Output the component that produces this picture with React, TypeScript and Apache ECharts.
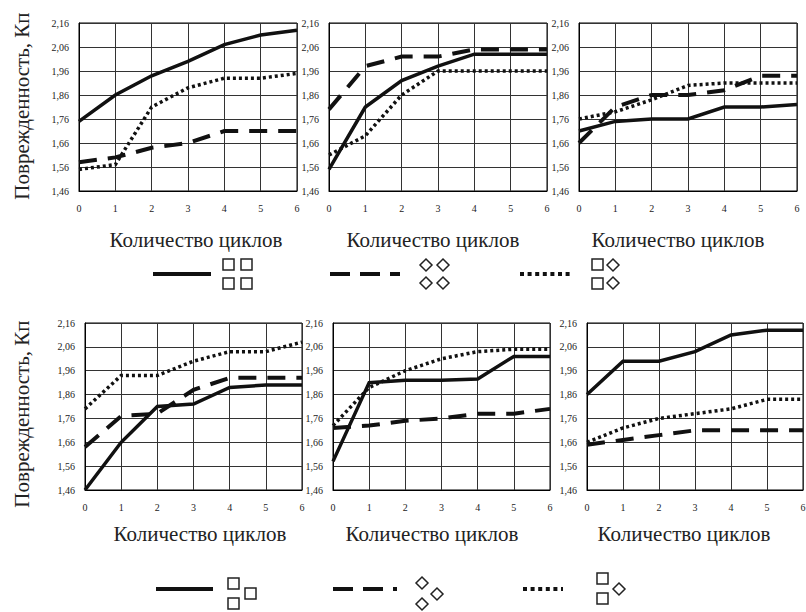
import React, { useEffect, useRef } from "react";
import * as echarts from "echarts";

// ---------- data ----------
const cycles = [0, 1, 2, 3, 4, 5, 6];
const yTickMin = 1.46;
const yTickMax = 2.16;
const yTickStep = 0.1;

const top1Solid = [1.75, 1.86, 1.94, 2.0, 2.07, 2.11, 2.13];
const top1Dashed = [1.58, 1.6, 1.64, 1.66, 1.71, 1.71, 1.71];
const top1Dotted = [1.55, 1.57, 1.81, 1.89, 1.93, 1.93, 1.95];

const top2Solid = [1.55, 1.81, 1.92, 1.98, 2.03, 2.03, 2.03];
const top2Dashed = [1.8, 1.98, 2.02, 2.02, 2.05, 2.05, 2.05];
const top2Dotted = [1.61, 1.69, 1.86, 1.96, 1.96, 1.96, 1.96];

const top3Solid = [1.71, 1.75, 1.76, 1.76, 1.81, 1.81, 1.82];
const top3Dashed = [1.66, 1.81, 1.86, 1.86, 1.88, 1.94, 1.94];
const top3Dotted = [1.76, 1.79, 1.84, 1.9, 1.91, 1.91, 1.91];

const bot1Solid = [1.46, 1.66, 1.81, 1.82, 1.89, 1.9, 1.9];
const bot1Dashed = [1.64, 1.77, 1.78, 1.88, 1.93, 1.93, 1.93];
const bot1Dotted = [1.8, 1.94, 1.94, 2.0, 2.04, 2.04, 2.08];

const bot2Solid = [1.58, 1.91, 1.92, 1.92, 1.925, 2.02, 2.02];
const bot2Dashed = [1.72, 1.73, 1.75, 1.76, 1.78, 1.78, 1.8];
const bot2Dotted = [1.73, 1.89, 1.96, 2.01, 2.04, 2.05, 2.05];

const bot3Solid = [1.86, 2.0, 2.0, 2.04, 2.11, 2.13, 2.13];
const bot3Dashed = [1.65, 1.67, 1.69, 1.71, 1.71, 1.71, 1.71];
const bot3Dotted = [1.66, 1.72, 1.76, 1.78, 1.8, 1.84, 1.84];

const xTitle = "Количество циклов";
const yTitle = "Поврежденность, Кп";

const panels = [
  { solid: top1Solid, dashed: top1Dashed, dotted: top1Dotted },
  { solid: top2Solid, dashed: top2Dashed, dotted: top2Dotted },
  { solid: top3Solid, dashed: top3Dashed, dotted: top3Dotted },
  { solid: bot1Solid, dashed: bot1Dashed, dotted: bot1Dotted },
  { solid: bot2Solid, dashed: bot2Dashed, dotted: bot2Dotted },
  { solid: bot3Solid, dashed: bot3Dashed, dotted: bot3Dotted },
];

// ---------- layout ----------
const grids = [
  { left: 79, top: 23, width: 218, height: 168 },
  { left: 329, top: 23, width: 218, height: 168 },
  { left: 579, top: 23, width: 218, height: 168 },
  { left: 85, top: 323, width: 217, height: 167 },
  { left: 333, top: 323, width: 217, height: 167 },
  { left: 587, top: 323, width: 216, height: 167 },
];
const xTitlePos = [
  [196, 240],
  [433, 240],
  [678, 240],
  [200, 534],
  [432, 534],
  [684, 534],
];
const yTitlePos = [
  [22, 106],
  [22, 414],
];

const INK = "#111";
const tickFont = "Liberation Sans Narrow";
const serif = "Liberation Serif";

const SOLID_W = 3.5;
const DASH: number[] = [18, 11];
const DOT: number[] = [3, 3];

function sq(x: number, y: number, s = 11) {
  return {
    type: "rect",
    shape: { x, y, width: s, height: s },
    style: { fill: "none", stroke: "#222", lineWidth: 1.5 },
  };
}
function dia(cx: number, cy: number, r = 6) {
  return {
    type: "polygon",
    shape: { points: [[cx, cy - r], [cx + r, cy], [cx, cy + r], [cx - r, cy]] },
    style: { fill: "none", stroke: "#222", lineWidth: 1.5 },
  };
}
function lgLine(x1: number, x2: number, y: number, dash?: number[]) {
  return {
    type: "line",
    shape: { x1, y1: y, x2, y2: y },
    style: { stroke: INK, lineWidth: 4, lineDash: dash, lineCap: "butt" },
  };
}

export default function App() {
  const ref = useRef<HTMLDivElement>(null);
  useEffect(() => {
    if (!ref.current) return;
    const chart = echarts.init(ref.current, undefined, { renderer: "svg" });

    const fmt = (v: number) => v.toFixed(2).replace(".", ",");

    const gridOpts = grids.map((g) => ({
      ...g,
      show: true,
      borderColor: "#000",
      borderWidth: 1,
      backgroundColor: "transparent",
      containLabel: false,
      outerBoundsMode: "none",
    }));

    const xAxes = grids.map((_, i) => ({
      gridIndex: i,
      type: "value",
      min: cycles[0],
      max: cycles[cycles.length - 1],
      interval: 1,
      axisLine: { show: true, lineStyle: { color: "#000", width: 1 } },
      axisTick: { show: false },
      splitLine: { show: true, lineStyle: { color: "#333", width: 1 } },
      axisLabel: { margin: 12, fontSize: 10, fontFamily: tickFont, color: "#222" },
    }));

    const yAxes = grids.map((_, i) => ({
      gridIndex: i,
      type: "value",
      min: yTickMin,
      max: yTickMax,
      interval: yTickStep,
      axisLine: { show: true, lineStyle: { color: "#000", width: 1 } },
      axisTick: { show: false },
      splitLine: { show: true, lineStyle: { color: "#333", width: 1 } },
      axisLabel: {
        margin: 10,
        fontSize: 10,
        fontFamily: tickFont,
        color: "#222",
        formatter: fmt,
      },
    }));

    const series: any[] = [];
    panels.forEach((p, i) => {
      const mk = (arr: number[], type: any, width: number) => ({
        type: "line",
        xAxisIndex: i,
        yAxisIndex: i,
        data: cycles.map((c, k) => [c, arr[k]]),
        showSymbol: false,
        symbol: "none",
        lineStyle: { color: INK, width, type, cap: "butt", join: "miter" },
        z: 3,
      });
      series.push(mk(p.solid, "solid", SOLID_W));
      series.push(mk(p.dashed, DASH, 4));
      series.push(mk(p.dotted, DOT, 3.5));
    });

    const graphics: any[] = [];
    xTitlePos.forEach(([x, y]) => {
      graphics.push({
        type: "text",
        x,
        y,
        style: {
          text: xTitle,
          fontSize: 21,
          fontFamily: serif,
          fill: "#222",
          textAlign: "center",
          textVerticalAlign: "middle",
        },
      });
    });
    yTitlePos.forEach(([x, y]) => {
      graphics.push({
        type: "text",
        x,
        y,
        rotation: Math.PI / 2,
        style: {
          text: yTitle,
          fontSize: 21,
          fontFamily: serif,
          fill: "#222",
          textAlign: "center",
          textVerticalAlign: "middle",
        },
      });
    });

    // legend row 1
    graphics.push(lgLine(153, 211, 274));
    graphics.push(sq(223, 259), sq(241, 259), sq(223, 278), sq(241, 278));
    graphics.push(lgLine(330, 400, 274, [20, 10]));
    graphics.push(dia(426, 265), dia(443, 265), dia(426, 283), dia(443, 283));
    graphics.push(lgLine(520, 573, 274, [4, 3.6]));
    graphics.push(sq(592, 259), dia(613, 265), sq(592, 278), dia(613, 283));

    // legend row 2
    graphics.push(lgLine(156, 213, 589));
    graphics.push(sq(228, 578), sq(228, 598), sq(245, 588));
    graphics.push(lgLine(333, 397, 589, [20, 10]));
    graphics.push(dia(422, 583), dia(437, 594), dia(422, 604));
    graphics.push(lgLine(523, 563, 589, [4, 3.6]));
    graphics.push(sq(597, 573), sq(597, 593), dia(619, 589));

    chart.setOption({
      animation: false,
      backgroundColor: "#fff",
      grid: gridOpts,
      xAxis: xAxes,
      yAxis: yAxes,
      series,
      graphic: graphics,
    } as any);

    return () => chart.dispose();
  }, []);

  return (
    <div
      ref={ref}
      style={{ position: "absolute", left: 0, top: 0, width: 806, height: 612 }}
    />
  );
}
